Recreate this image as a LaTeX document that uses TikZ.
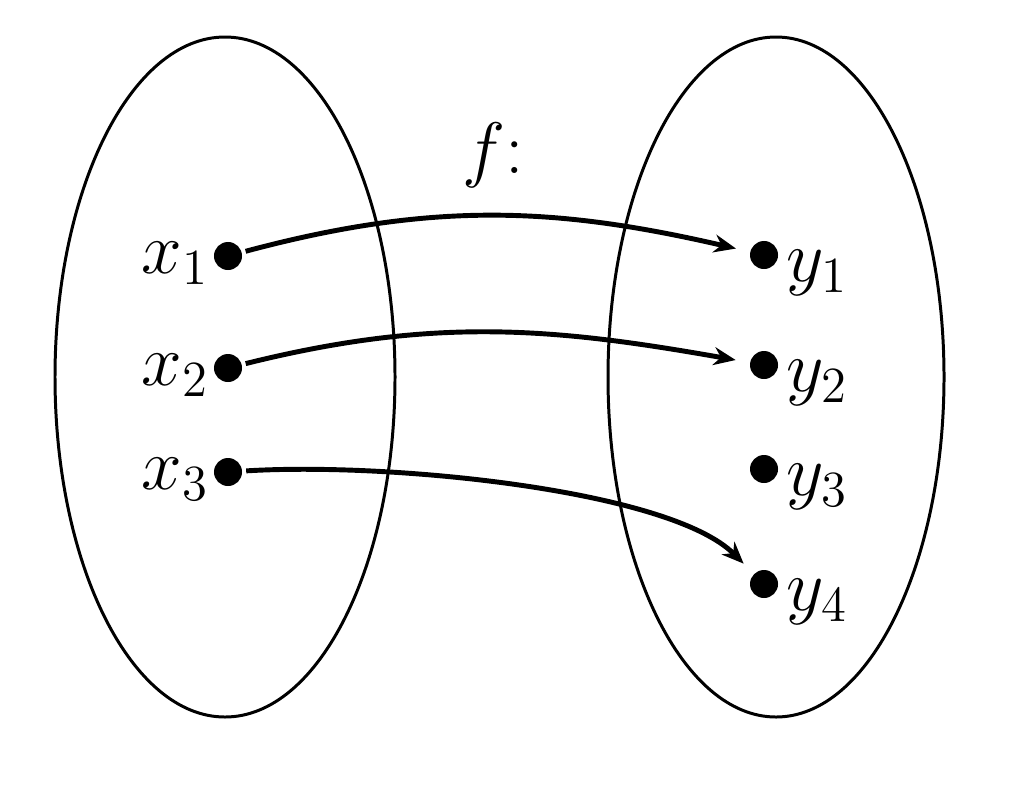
\documentclass[tikz,border=0pt]{standalone}
\usepackage{amsmath}
\usepackage{tikz}
\usetikzlibrary{arrows.meta}

\begin{document}
\begin{tikzpicture}[
  x=0.01cm, y=-0.01cm,
  font=\fontsize{21}{25}\selectfont,
  setline/.style={line width=0.85pt},
  maparr/.style={-{Stealth[length=0.22cm, width=0.18cm]}, line width=1.4pt,
                 shorten <=1pt, shorten >=4pt},
  pt/.style={circle, fill=black, inner sep=0pt, minimum size=0.28cm},
  xlbl/.style={anchor=east, inner sep=1pt},
  ylbl/.style={anchor=west, inner sep=1pt},
]
  \useasboundingbox (0,0) rectangle (1016,800);

  % domain and codomain
  \draw[setline] (225,377) ellipse [x radius=170, y radius=340];
  \draw[setline] (776,377) ellipse [x radius=168, y radius=340];

  % points of the domain
  \node[pt] (x1) at (228,256) {};
  \node[pt] (x2) at (228,368) {};
  \node[pt] (x3) at (228,472) {};
  \node[xlbl] (lx1) at ([xshift=0pt,yshift=-2pt]x1.west) {$x_1$};
  \node[xlbl] (lx2) at ([xshift=0pt,yshift=-2pt]x2.west) {$x_2$};
  \node[xlbl] (lx3) at ([xshift=0pt,yshift=-2pt]x3.west) {$x_3$};

  % points of the codomain
  \node[pt] (y1) at (764,255) {};
  \node[pt] (y2) at (764,365) {};
  \node[pt] (y3) at (764,469) {};
  \node[pt] (y4) at (764,584) {};
  \node[ylbl] (ly1) at ([xshift=1pt,yshift=-5pt]y1.east) {$y_1$};
  \node[ylbl] (ly2) at ([xshift=1pt,yshift=-5pt]y2.east) {$y_2$};
  \node[ylbl] (ly3) at ([xshift=1pt,yshift=-5pt]y3.east) {$y_3$};
  \node[ylbl] (ly4) at ([xshift=1pt,yshift=-5pt]y4.east) {$y_4$};

  % the map
  \node (f) at (493,155) {$f$:};
  \draw[maparr] (x1) to[out=15, in=167] (y1);
  \draw[maparr] (x2) to[out=14, in=170] (y2);
  \draw[maparr] (x3) .. controls (390,462) and (670,490) .. (y4);
\end{tikzpicture}
\end{document}
